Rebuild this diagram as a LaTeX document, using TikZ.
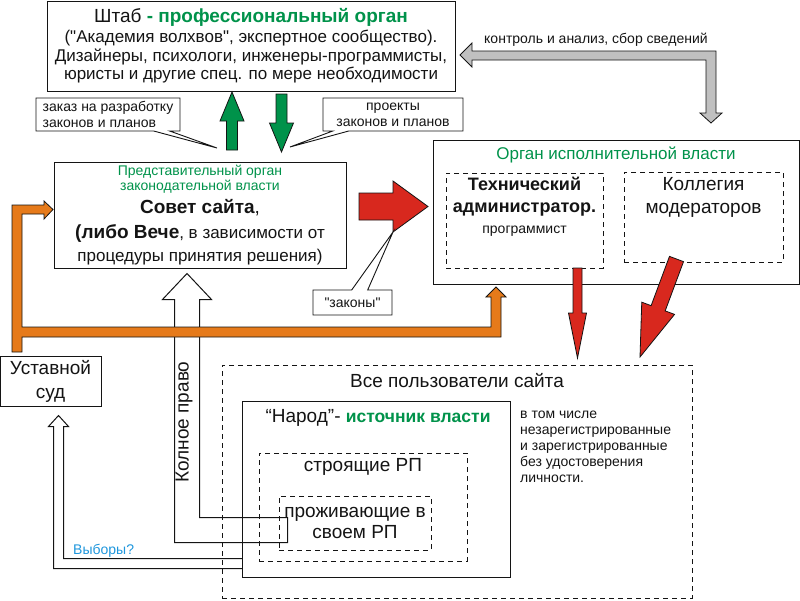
\documentclass[tikz,border=0pt]{standalone}
\usepackage{fontspec}
\setmainfont{Liberation Sans}[Ligatures=TeXOff]
\usepackage{tikz}
\usetikzlibrary{calc,positioning,shapes.callouts}
\definecolor{cRed}{HTML}{D8281E}
\definecolor{cOrange}{HTML}{E67A1A}
\definecolor{cGreen}{HTML}{00924A}
\definecolor{cGrey}{HTML}{C0C0C0}
\definecolor{cSky}{HTML}{1E96DC}
\definecolor{cInk}{HTML}{141414}
\newcommand{\fbig}{\fontsize{19}{23}\selectfont}
\newcommand{\fmid}{\fontsize{17}{18.5}\selectfont}
\newcommand{\fsmall}{\fontsize{14}{16}\selectfont}
% block arrow: [style]{tail}{tip}{shaft half width}{head half width}{head length}
\newcommand{\blockarrow}[6][]{%
  \coordinate (ba-t) at #2;
  \coordinate (ba-h) at #3;
  \coordinate (ba-b) at ($(ba-h)!#6!(ba-t)$);
  \draw[#1] ($(ba-t)!#4!90:(ba-h)$) -- ($(ba-b)!#4!90:(ba-h)$) -- ($(ba-b)!#5!90:(ba-h)$)
    -- (ba-h) -- ($(ba-b)!#5!-90:(ba-h)$) -- ($(ba-b)!#4!-90:(ba-h)$) -- ($(ba-t)!#4!-90:(ba-h)$) -- cycle;}
\tikzset{
  box/.style={draw=cInk,line width=1pt,inner sep=0pt,align=center,text=cInk},
  dbox/.style={box,line width=0.9pt,dash pattern=on 5pt off 4pt},
  note/.style={rectangle callout,draw=cInk,line width=0.9pt,fill=white,inner sep=0pt,align=center,font=\fsmall,text=cInk,callout pointer width=16pt},
  blk/.style={draw=cInk,line width=0.8pt,line join=miter,fill=#1},
  wire/.style={draw=cInk,line width=1pt},
  lbl/.style={inner sep=0pt,align=center,text=cInk},
}

\begin{document}
\begin{tikzpicture}[x=1pt,y=-1pt]
  \useasboundingbox (0,0) rectangle (800,600);

  \node[box,minimum width=408pt,minimum height=90pt,font=\fmid] (shtab) at (251,46)
    {{\fbig Штаб \textcolor{cGreen}{\bfseries - профессиональный орган}}\\[1.5pt]
     ("Академия волхвов", экспертное сообщество).\\
     Дизайнеры, психологи, инженеры-программисты,\\
     юристы и другие спец. по мере необходимости};

  \node[box,minimum width=292pt,minimum height=106pt,font=\fontsize{17}{15}\selectfont] (sovet) at (200,215)
    {{\fsmall\color{cGreen}Представительный орган}\\
     {\fsmall\color{cGreen}законодательной власти}\\[5pt]
     {\fbig\bfseries Совет сайта}{\fbig,}\\[8pt]
     {\fbig\bfseries (либо Вече}, в зависимости от\\[5pt]
     процедуры принятия решения)};

  \node[box,minimum width=366pt,minimum height=144pt] (exec) at (616,212) {};
  \node[lbl,font=\fmid,text=cGreen] (execname) at (616,155) {Орган исполнительной власти};
  \node[dbox,minimum width=157pt,minimum height=95pt] (tech) at (524.5,220.5) {};
  \node[lbl,font=\fontsize{18}{21.5}\selectfont] (techname) at (524.5,207)
    {\bfseries Технический\\ \bfseries администратор.\\ {\fsmall программист}};
  \node[dbox,minimum width=159pt,minimum height=90pt] (board) at (703.5,217) {};
  \node[lbl,font=\fontsize{19}{23}\selectfont] (boardname) at (703.5,197) {Коллегия\\модераторов};

  \node[box,minimum width=101pt,minimum height=50pt,font=\fontsize{19}{24}\selectfont] (court) at (50.5,381) {Уставной\\суд};

  \node[dbox,minimum width=470pt,minimum height=233pt] (users) at (457,481.5) {};
  \node[lbl,font=\fbig] (usersname) at (457,381) {Все пользователи сайта};
  \node[lbl,font=\fsmall,align=left,anchor=north west] (usersnote) at (520,411)
    {в том числе\\незарегистрированные\\и зарегистрированные\\без удостоверения\\личности.};
  \node[box,minimum width=268pt,minimum height=176pt] (people) at (376,489) {};
  \node[lbl,font=\fbig] (peoplename) at (378,418)
    {“Народ”- \textcolor{cGreen}{\fontsize{17.5}{20}\selectfont\bfseries источник власти}};
  \node[dbox,minimum width=208pt,minimum height=108pt] (builders) at (363,507) {};
  \node[lbl,font=\fbig] (buildersname) at (363,467) {строящие РП};
  \node[dbox,minimum width=152pt,minimum height=54pt,font=\fontsize{19}{21}\selectfont] (residents) at (355,523)
    {проживающие в\\своем РП};

  \draw[wire] (187,273.5) -- (211.5,299.5) -- (199.5,299.5) -- (199.5,517.5) -- (287.5,517.5) -- (287.5,542.5)
    -- (174.5,542.5) -- (174.5,299.5) -- (162.5,299.5) -- cycle;
  \node[lbl,font=\fbig,rotate=90] (veto) at (184,422) {Колное право};
  \draw[wire] (242,558.5) -- (63.5,558.5) -- (63.5,426.5) -- (68.5,426.5) -- (58.5,415.5) -- (48.5,426.5) -- (53.5,426.5)
    -- (53.5,568.5) -- (242,568.5);
  \node[lbl,font=\fsmall,text=cSky,anchor=west] (vote) at (73,551) {Выборы?};

  \draw[blk=cOrange] (12,352) -- (12,205) -- (44,205) -- (44,201) -- (53,209.5) -- (44,219) -- (44,214)
    -- (22,214) -- (22,327) -- (491,327) -- (491,297) -- (486,297) -- (496,287) -- (506,297)
    -- (501,297) -- (501,337) -- (22,337) -- (22,352) -- cycle;

  \blockarrow[blk=cGreen]{(232,150)}{(232,92)}{5.5pt}{12pt}{29pt}
  \blockarrow[blk=cGreen]{(281.5,94)}{(281.5,152)}{5.5pt}{12pt}{29pt}
  \blockarrow[blk=cRed]{(359,206.5)}{(428,206.5)}{13.5pt}{25.5pt}{35pt}
  \blockarrow[blk=cRed]{(577.5,268)}{(577.5,358)}{4.5pt}{9pt}{45pt}
  \blockarrow[blk=cRed]{(676.5,259)}{(640,357)}{7.5pt}{17.5pt}{52pt}

  \draw[blk=cGrey] (460,55) -- (472,43) -- (472,51) -- (716,51) -- (716,113) -- (722,113) -- (711,123)
    -- (700,113) -- (706,113) -- (706,60) -- (472,60) -- (472,67) -- cycle;
  \node[lbl,font=\fsmall] (control) at (596,40) {контроль и анализ, сбор сведений};

  \node[note,align=left,minimum width=144pt,minimum height=33pt,callout absolute pointer={(217,148)}] (order) at (108,114.5)
    {заказ на разработку\\законов и планов};
  \node[note,minimum width=140pt,minimum height=33pt,callout absolute pointer={(290,147)}] (drafts) at (393,114.5)
    {проекты\\законов и планов};
  \node[note,minimum width=79pt,minimum height=25pt,callout absolute pointer={(393,232)}] (laws) at (352.5,302.5)
    {"законы"};
\end{tikzpicture}
\end{document}
